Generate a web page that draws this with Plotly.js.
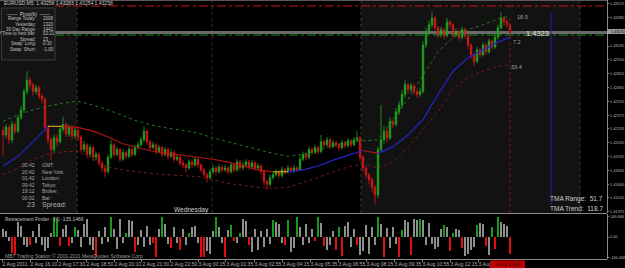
<!DOCTYPE html>
<html><head><meta charset="utf-8">
<script src="https://cdn.plot.ly/plotly-3.0.1.min.js"></script>
<style>html,body{margin:0;padding:0;background:#000;overflow:hidden}#chart{width:625px;height:268px}</style>
</head><body><div id="chart"></div>
<script>
// ---- price data (EURUSD M5) ----
const barOpen = [1.4222,1.4217,1.4225,1.4212,1.4228,1.4221,1.4235,1.4243,1.4262,1.4274,
1.4269,1.4262,1.4266,1.4257,1.4254,1.4225,1.4212,1.4202,1.4214,1.4210,
1.4223,1.4228,1.4218,1.4225,1.4216,1.4222,1.4215,1.4202,1.4207,1.4197,
1.4204,1.4194,1.4197,1.4188,1.4183,1.4179,1.4194,1.4207,1.4197,1.4202,
1.4192,1.4199,1.4195,1.4202,1.4197,1.4204,1.4207,1.4212,1.4221,1.4210,
1.4204,1.4207,1.4200,1.4204,1.4197,1.4202,1.4195,1.4199,1.4192,1.4194,
1.4188,1.4186,1.4183,1.4189,1.4186,1.4192,1.4186,1.4181,1.4176,1.4173,
1.4179,1.4183,1.4179,1.4184,1.4181,1.4183,1.4179,1.4186,1.4181,1.4189,
1.4183,1.4186,1.4189,1.4184,1.4188,1.4183,1.4185,1.4179,1.4169,1.4166,
1.4173,1.4176,1.4179,1.4175,1.4181,1.4179,1.4183,1.4180,1.4183,1.4181,
1.4192,1.4197,1.4194,1.4202,1.4199,1.4204,1.4200,1.4210,1.4207,1.4212,
1.4205,1.4209,1.4207,1.4204,1.4209,1.4206,1.4211,1.4207,1.4212,1.4214,
1.4194,1.4183,1.4176,1.4171,1.4163,1.4155,1.4202,1.4212,1.4221,1.4214,
1.4231,1.4228,1.4241,1.4248,1.4259,1.4269,1.4264,1.4268,1.4262,1.4259,
1.4262,1.4310,1.4324,1.4331,1.4338,1.4328,1.4321,1.4326,1.4320,1.4334,
1.4331,1.4321,1.4324,1.4318,1.4326,1.4320,1.4310,1.4300,1.4293,1.4305,
1.4300,1.4310,1.4303,1.4314,1.4308,1.4318,1.4328,1.4338,1.4334,1.4331];
const barHigh = [1.4226,1.4228,1.4227,1.4231,1.4230,1.4238,1.4247,1.4265,1.4283,1.4277,
1.4271,1.4269,1.4268,1.4260,1.4256,1.4227,1.4214,1.4217,1.4218,1.4226,
1.4236,1.4230,1.4228,1.4227,1.4225,1.4224,1.4217,1.4211,1.4209,1.4207,
1.4206,1.4200,1.4199,1.4190,1.4185,1.4197,1.4212,1.4209,1.4205,1.4204,
1.4202,1.4201,1.4205,1.4204,1.4207,1.4210,1.4215,1.4226,1.4222,1.4212,
1.4210,1.4209,1.4207,1.4206,1.4205,1.4204,1.4202,1.4201,1.4197,1.4196,
1.4191,1.4188,1.4192,1.4191,1.4195,1.4194,1.4188,1.4183,1.4178,1.4182,
1.4186,1.4185,1.4187,1.4186,1.4186,1.4185,1.4189,1.4188,1.4192,1.4191,
1.4189,1.4192,1.4191,1.4191,1.4190,1.4188,1.4187,1.4181,1.4171,1.4176,
1.4179,1.4182,1.4181,1.4184,1.4183,1.4186,1.4185,1.4186,1.4185,1.4195,
1.4200,1.4199,1.4205,1.4204,1.4207,1.4206,1.4217,1.4212,1.4215,1.4214,
1.4212,1.4211,1.4209,1.4212,1.4211,1.4214,1.4213,1.4215,1.4221,1.4216,
1.4196,1.4185,1.4178,1.4173,1.4165,1.4205,1.4248,1.4226,1.4224,1.4235,
1.4234,1.4245,1.4252,1.4263,1.4274,1.4271,1.4271,1.4270,1.4265,1.4266,
1.4314,1.4328,1.4335,1.4344,1.4340,1.4330,1.4329,1.4328,1.4338,1.4336,
1.4333,1.4327,1.4326,1.4329,1.4328,1.4322,1.4312,1.4302,1.4308,1.4307,
1.4313,1.4312,1.4317,1.4316,1.4321,1.4331,1.4344,1.4340,1.4337,1.4333];
const barLow = [1.4195,1.4214,1.4208,1.4209,1.4218,1.4219,1.4233,1.4240,1.4259,1.4265,
1.4258,1.4259,1.4254,1.4250,1.4221,1.4207,1.4191,1.4199,1.4205,1.4208,
1.4220,1.4215,1.4215,1.4212,1.4213,1.4211,1.4198,1.4199,1.4193,1.4194,
1.4190,1.4191,1.4185,1.4179,1.4173,1.4177,1.4192,1.4194,1.4195,1.4189,
1.4190,1.4192,1.4193,1.4194,1.4195,1.4202,1.4205,1.4210,1.4207,1.4201,
1.4202,1.4197,1.4198,1.4194,1.4195,1.4192,1.4193,1.4189,1.4190,1.4185,
1.4183,1.4178,1.4181,1.4183,1.4184,1.4183,1.4178,1.4173,1.4168,1.4171,
1.4177,1.4176,1.4177,1.4178,1.4179,1.4176,1.4177,1.4178,1.4179,1.4180,
1.4181,1.4184,1.4181,1.4182,1.4180,1.4181,1.4176,1.4165,1.4160,1.4164,
1.4171,1.4174,1.4172,1.4173,1.4176,1.4177,1.4178,1.4178,1.4179,1.4180,
1.4190,1.4191,1.4192,1.4196,1.4197,1.4197,1.4198,1.4204,1.4205,1.4202,
1.4203,1.4204,1.4201,1.4202,1.4203,1.4204,1.4204,1.4205,1.4210,1.4190,
1.4179,1.4172,1.4166,1.4158,1.4145,1.4152,1.4199,1.4208,1.4210,1.4212,
1.4224,1.4226,1.4238,1.4245,1.4256,1.4260,1.4261,1.4258,1.4255,1.4256,
1.4260,1.4307,1.4321,1.4328,1.4325,1.4317,1.4318,1.4316,1.4318,1.4327,
1.4317,1.4318,1.4314,1.4316,1.4317,1.4306,1.4296,1.4288,1.4291,1.4296,
1.4298,1.4300,1.4301,1.4305,1.4306,1.4316,1.4326,1.4330,1.4328,1.4321];
const barClose = [1.4217,1.4225,1.4212,1.4228,1.4221,1.4235,1.4243,1.4262,1.4274,1.4269,
1.4262,1.4266,1.4257,1.4254,1.4225,1.4212,1.4202,1.4214,1.4210,1.4223,
1.4228,1.4218,1.4225,1.4216,1.4222,1.4215,1.4202,1.4207,1.4197,1.4204,
1.4194,1.4197,1.4188,1.4183,1.4179,1.4194,1.4207,1.4197,1.4202,1.4192,
1.4199,1.4195,1.4202,1.4197,1.4204,1.4207,1.4212,1.4221,1.4210,1.4204,
1.4207,1.4200,1.4204,1.4197,1.4202,1.4195,1.4199,1.4192,1.4194,1.4188,
1.4186,1.4183,1.4189,1.4186,1.4192,1.4186,1.4181,1.4176,1.4173,1.4179,
1.4183,1.4179,1.4184,1.4181,1.4183,1.4179,1.4186,1.4181,1.4189,1.4183,
1.4186,1.4189,1.4184,1.4188,1.4183,1.4185,1.4179,1.4169,1.4166,1.4173,
1.4176,1.4179,1.4175,1.4181,1.4179,1.4183,1.4180,1.4183,1.4181,1.4192,
1.4197,1.4194,1.4202,1.4199,1.4204,1.4200,1.4210,1.4207,1.4212,1.4205,
1.4209,1.4207,1.4204,1.4209,1.4206,1.4211,1.4207,1.4212,1.4214,1.4194,
1.4183,1.4176,1.4171,1.4163,1.4155,1.4202,1.4212,1.4221,1.4214,1.4231,
1.4228,1.4241,1.4248,1.4259,1.4269,1.4264,1.4268,1.4262,1.4259,1.4262,
1.4310,1.4324,1.4331,1.4338,1.4328,1.4321,1.4326,1.4320,1.4334,1.4331,
1.4321,1.4324,1.4318,1.4326,1.4320,1.4310,1.4300,1.4293,1.4305,1.4300,
1.4310,1.4303,1.4314,1.4308,1.4318,1.4328,1.4338,1.4334,1.4331,1.4323];

// ---- TMA channel (sampled bars) ----
const tmaBars   = [0,5,10,15,20,25,30,35,40,45,50,55,60,65,70,75,80,85,90,95,100,105,110,115,120,125,130,135,140,145,150,155,160,165,169];
const tmaCenter = [1.4185,1.4195,1.4210,1.4226,1.4226,1.4225,1.4221,1.4215,1.4208,1.4204,1.4200,1.4198,1.4196,1.4194,1.4192,1.4189,1.4185,1.4181,1.4179,1.4179,1.4181,1.4185,1.4191,1.4196,1.4201,1.4198,1.4205,1.4217,1.4233,1.4259,1.4283,1.4297,1.4305,1.4313,1.4318];
const tmaUpper  = [1.4231,1.4238,1.4243,1.4247,1.4250,1.4252,1.4248,1.4243,1.4237,1.4231,1.4227,1.4224,1.4222,1.4219,1.4214,1.4210,1.4206,1.4202,1.4198,1.4195,1.4197,1.4201,1.4206,1.4210,1.4211,1.4212,1.4233,1.4254,1.4279,1.4303,1.4318,1.4326,1.4331,1.4337,1.4340];
const tmaLower  = [1.4176,1.4183,1.4192,1.4197,1.4200,1.4200,1.4192,1.4184,1.4181,1.4179,1.4177,1.4176,1.4175,1.4174,1.4171,1.4167,1.4165,1.4163,1.4162,1.4163,1.4168,1.4173,1.4179,1.4184,1.4187,1.4183,1.4189,1.4204,1.4223,1.4241,1.4264,1.4277,1.4283,1.4288,1.4290];

// ---- Retracement Finder histogram ----
const rfValues = [55,40,-30,-115,-125,105,80,-60,-75,-55,
40,-45,95,-60,-100,-80,30,140,125,-65,
60,85,-65,-40,74,50,-70,90,130,-60,
-90,-140,45,-50,70,-35,140,60,-85,130,
-40,28,125,115,-110,-60,50,-70,80,-55,
-45,-140,60,140,90,-50,-80,70,-40,-90,
55,-60,28,75,80,-45,-145,-140,-100,-120,
40,140,70,-45,-145,50,85,-25,-40,28,
130,115,-55,-110,60,-90,45,-70,55,-50,
120,110,95,-40,-55,120,-110,-80,140,75,
-60,90,-45,60,-30,140,100,-65,-90,-55,
40,-90,74,-135,80,105,-70,60,-55,-130,
-100,85,-120,70,-60,140,90,-145,65,-80,
75,-50,-145,50,120,110,-130,130,125,130,
120,-60,100,-50,-85,-75,60,85,70,-99,
28,55,50,-76,-133,-120,-90,-70,85,100,
90,-64,-130,70,-87,143,110,95,80,-122];
const rfSignal = [0,0,0,-1,-1,0,0,0,0,-1,
0,0,0,0,0,0,0,1,1,-1,
0,0,-1,0,1,0,0,0,0,0,
0,-1,0,0,0,0,1,0,0,0,
0,1,0,0,-1,0,0,0,0,0,
-1,-1,0,1,0,0,-1,0,0,-1,
0,0,1,0,0,0,-1,-1,0,0,
0,1,0,0,-1,0,1,-1,0,1,
0,0,-1,0,0,0,0,0,0,0,
1,0,0,0,-1,1,0,0,1,0,
0,0,0,0,-1,1,0,-1,0,0,
0,-1,1,-1,0,0,0,0,-1,0,
0,0,0,0,0,1,0,-1,0,0,
0,0,-1,1,0,0,-1,0,0,1,
0,0,0,0,0,0,0,1,0,-1,
1,0,0,-1,0,0,0,0,1,0,
0,-1,0,1,-1,1,0,0,0,-1];

// ---- axis labels ----
const timeLabels = ['2 Aug 2011','2 Aug 16:10','2 Aug 17:30','2 Aug 18:50','2 Aug 20:10','2 Aug 21:30','2 Aug 22:50','3 Aug 00:15','3 Aug 01:35','3 Aug 02:55','3 Aug 04:15','3 Aug 05:35','3 Aug 06:55','3 Aug 08:15','3 Aug 09:35','3 Aug 10:55','3 Aug 12:15','3 Aug 13:35'];
const timeLabelBars = [-0.33,9,18.33,27.67,37,46.33,55.67,65,74.33,83.67,93,102.33,111.67,121,130.33,139.67,149,158.33];
const priceTicks = [1.43525,1.43380,1.43235,1.43090,1.42950,1.42805,1.42660,1.42520,1.42375,1.42235,1.42090,1.41945,1.41805,1.41660,1.41520,1.41375];
const rfTicks = [146.666,0,-146.666];
const rfTickText = ['146.666','0.00','-146.666'];
const resistLevel = 1.43504, supportLevel = 1.43204;

// ---- build ----
const W = 607, H = 260;
const px = x => x / W, py = y => (H - y) / H;
const bars = barClose.map((_, i) => i);
const FONT = 'Liberation Sans, Arial, sans-serif';
const NARROW = 'Liberation Sans Narrow, Liberation Sans, Arial, sans-serif';

const traces = [];
traces.push({type:'candlestick', x:bars, open:barOpen, high:barHigh, low:barLow, close:barClose,
  xaxis:'x', yaxis:'y', whiskerwidth:0,
  increasing:{line:{color:'#20a820',width:0.8}, fillcolor:'#20a820'},
  decreasing:{line:{color:'#d81818',width:0.8}, fillcolor:'#d81818'},
  hoverinfo:'skip', showlegend:false});

traces.push({type:'scatter', mode:'lines', x:tmaBars, y:tmaUpper, line:{color:'#1f7a1f',width:1,dash:'dot'}, yaxis:'y', showlegend:false, hoverinfo:'skip'});
traces.push({type:'scatter', mode:'lines', x:tmaBars, y:tmaLower, line:{color:'#7a1a1a',width:1,dash:'dot'}, yaxis:'y', showlegend:false, hoverinfo:'skip'});

// centre line coloured by slope
function slopeColor(k){ const d = tmaCenter[k]-tmaCenter[k-1]; return d>0?'#2424c8':(d<0?'#b01414':'#c8a020'); }
let segStart = 0;
for (let k = 1; k < tmaCenter.length; k++) {
  const c = slopeColor(k);
  const next = k+1 < tmaCenter.length ? slopeColor(k+1) : null;
  if (next !== c) {
    traces.push({type:'scatter', mode:'lines', x:tmaBars.slice(segStart,k+1), y:tmaCenter.slice(segStart,k+1),
      line:{color:c,width:1.2}, yaxis:'y', showlegend:false, hoverinfo:'skip'});
    segStart = k;
  }
}

traces.push({type:'bar', x:bars, y:rfValues, yaxis:'y2', width:0.45,
  marker:{color: rfSignal.map(s => s>0?'#1a9a1a':(s<0?'#e01010':'#8e8e8e')), line:{width:0}},
  showlegend:false, hoverinfo:'skip'});

const shapes = [
  {type:'rect',xref:'paper',yref:'paper',x0:0,x1:px(77),y0:py(213),y1:py(1),fillcolor:'#121212',line:{width:0},layer:'below'},
  {type:'rect',xref:'paper',yref:'paper',x0:px(361),x1:px(580),y0:py(213),y1:py(1),fillcolor:'#121212',line:{width:0},layer:'below'},
  {type:'line',xref:'paper',yref:'paper',x0:px(77),x1:px(77),y0:py(213),y1:py(1),line:{color:'#3a3a3a',width:1,dash:'dot'},layer:'below'},
  {type:'line',xref:'paper',yref:'paper',x0:px(212),x1:px(212),y0:py(213),y1:py(1),line:{color:'#2e2e2e',width:1,dash:'dot'},layer:'below'},
  {type:'line',xref:'paper',yref:'paper',x0:px(361),x1:px(361),y0:py(213),y1:py(1),line:{color:'#3a3a3a',width:1,dash:'dot'},layer:'below'},
  {type:'line',xref:'paper',yref:'paper',x0:px(580),x1:px(580),y0:py(213),y1:py(1),line:{color:'#3a3a3a',width:1,dash:'dot'},layer:'below'},
  {type:'line',xref:'paper',yref:'y',x0:0,x1:1,y0:barClose[barClose.length-1],y1:barClose[barClose.length-1],line:{color:'#6a6a6a',width:3},layer:'below'},
  {type:'line',xref:'paper',yref:'y',x0:px(55),x1:1,y0:resistLevel,y1:resistLevel,line:{color:'#c01818',width:1,dash:'dashdot'}},
  {type:'line',xref:'paper',yref:'y',x0:px(55),x1:1,y0:supportLevel,y1:supportLevel,line:{color:'#1f8a1f',width:1,dash:'dashdot'}},
  {type:'line',xref:'x',yref:'paper',x0:bars.length-1,x1:bars.length-1,y0:py(213),y1:py(17),line:{color:'#8a1414',width:1,dash:'dot'}},
  {type:'line',xref:'paper',yref:'paper',x0:px(551),x1:px(551),y0:py(205),y1:py(12),line:{color:'#2020a8',width:1}},
  {type:'line',xref:'paper',yref:'paper',x0:0,x1:1,y0:py(0.5),y1:py(0.5),line:{color:'#5a5a5a',width:1}},
  {type:'line',xref:'paper',yref:'paper',x0:0,x1:1,y0:py(213.5),y1:py(213.5),line:{color:'#8a8a8a',width:1}},
  {type:'line',xref:'paper',yref:'paper',x0:0,x1:1,y0:py(259.5),y1:py(259.5),line:{color:'#8a8a8a',width:1}},
  {type:'rect',xref:'paper',yref:'paper',x0:px(1.5),x1:px(55),y0:py(60),y1:py(8),fillcolor:'#171717',line:{color:'#3c3c3c',width:1}},
  {type:'rect',xref:'paper',yref:'paper',x0:px(490),x1:px(525),y0:py(268),y1:py(260.5),fillcolor:'#c00000',line:{width:0}},
  {type:'rect',xref:'paper',yref:'paper',x0:1,x1:px(625),y0:py(34),y1:py(29),fillcolor:'#9a9a9a',line:{width:0}}
];

const ann = [];
function txt(t, x, y, size, color, anchor, fam){ ann.push({text:t, xref:'paper', yref:'paper', x:px(x), y:py(y), xanchor:anchor||'left', yanchor:'middle', showarrow:false, font:{family:fam||FONT,size:size,color:color}}); }
txt('EURUSD,M5  1.43258 1.43283 1.43254 1.43258', 2, 3.5, 5, '#c8c8c8', 'left', NARROW);
txt('——  Pivot(b)  ——', 28, 14, 5, '#c8c8c8', 'center');
const infoLabels = ['Range Today:','Yesterday:','30 Day Range:','Time to next bar:','Spread:','Swap  Long:','Swap  Short:'];
const infoValues = ['2008','1320','1443','02:21','23','0.30','-1.00'];
const infoRows = [19,24,29,34,39,44,50];
infoLabels.forEach((l,k)=>{ txt(l, 38, infoRows[k], 4.5, '#c0c0c0', 'right', NARROW); txt(infoValues[k], 41, infoRows[k], 4.5, '#c0c0c0', 'left', NARROW); });
const clockTimes = ['00:42','20:42','01:42','09:42','19:12','00:02'];
const clockNames = ['GMT:','New York:','London:','Tokyo:','Broker:','Bar:'];
clockTimes.forEach((t,k)=>{ const y = 165 + k*6.6; txt(t, 37, y, 5, '#a8a8a8', 'right'); txt(clockNames[k], 40, y, 5, '#a8a8a8'); });
txt('23', 37, 204.5, 7, '#b0b0b0', 'right'); txt('Spread:', 40, 204.5, 7, '#b0b0b0');
txt('Wednesday', 191, 210, 6.5, '#d0d0d0', 'center');
txt('18.9', 515, 17, 5.5, '#a0a0a0');
txt('7.2', 511, 42, 5.5, '#a0a0a0');
txt('33.4', 509, 67, 5.5, '#a0a0a0');
txt('1.4323', 524, 34, 7.5, '#e0e0e0');
txt('TMA Range:  51.7', 605, 199, 6.5, '#d0d0d0', 'right');
txt('TMA Trend:  118.7', 605, 208, 6.5, '#d0d0d0', 'right');
txt('Retracement Finder - (4) -135.1466', 3, 218.5, 5, '#c0c0c0');
txt('MBT Trading Station © 2001-2011 MetaQuotes Software Corp.', 3, 255.5, 5, '#9a9a9a');
txt('3 Aug 13:40', 507.5, 264, 5, '#300000', 'center', NARROW);
txt('1.43232', 608.5, 31.5, 4, '#000000', 'left', NARROW);

const layout = {
  width:625, height:268, margin:{l:0,r:18,t:0,b:8,pad:0},
  paper_bgcolor:'#000000', plot_bgcolor:'#000000',
  font:{family:FONT, color:'#b4b4b4', size:5},
  showlegend:false, hovermode:false, bargap:0,
  xaxis:{domain:[0,1], range:[-1,201.33], anchor:'y2', showgrid:false, zeroline:false, showline:false,
    rangeslider:{visible:false}, tickmode:'array', tickvals:timeLabelBars, ticktext:timeLabels, tickangle:0,
    ticks:'outside', ticklen:2, tickcolor:'#8a8a8a', ticklabelposition:'outside right', ticklabelstandoff:0,
    tickfont:{family:NARROW,size:5,color:'#b0b0b0'}, fixedrange:true, automargin:false},
  yaxis:{domain:[py(213),1], range:[1.41364,1.43566], side:'right', anchor:'x', showgrid:false, zeroline:false,
    showline:true, linecolor:'#8a8a8a', linewidth:1, tickmode:'array', tickvals:priceTicks,
    ticktext:priceTicks.map(v=>v.toFixed(5)), ticks:'outside', ticklen:1, tickcolor:'#8a8a8a', ticklabelstandoff:0,
    tickfont:{family:NARROW,size:4,color:'#b4b4b4'}, fixedrange:true, automargin:false},
  yaxis2:{domain:[py(259),py(214)], range:[-157.3,164.5], side:'right', anchor:'x', showgrid:false, zeroline:false,
    showline:true, linecolor:'#8a8a8a', linewidth:1, tickmode:'array', tickvals:rfTicks, ticktext:rfTickText,
    ticks:'outside', ticklen:1, tickcolor:'#8a8a8a', ticklabelstandoff:0, tickfont:{family:NARROW,size:4,color:'#b4b4b4'}, fixedrange:true, automargin:false},
  shapes:shapes, annotations:ann
};
Plotly.newPlot('chart', traces, layout, {staticPlot:true, displayModeBar:false});
</script></body></html>
